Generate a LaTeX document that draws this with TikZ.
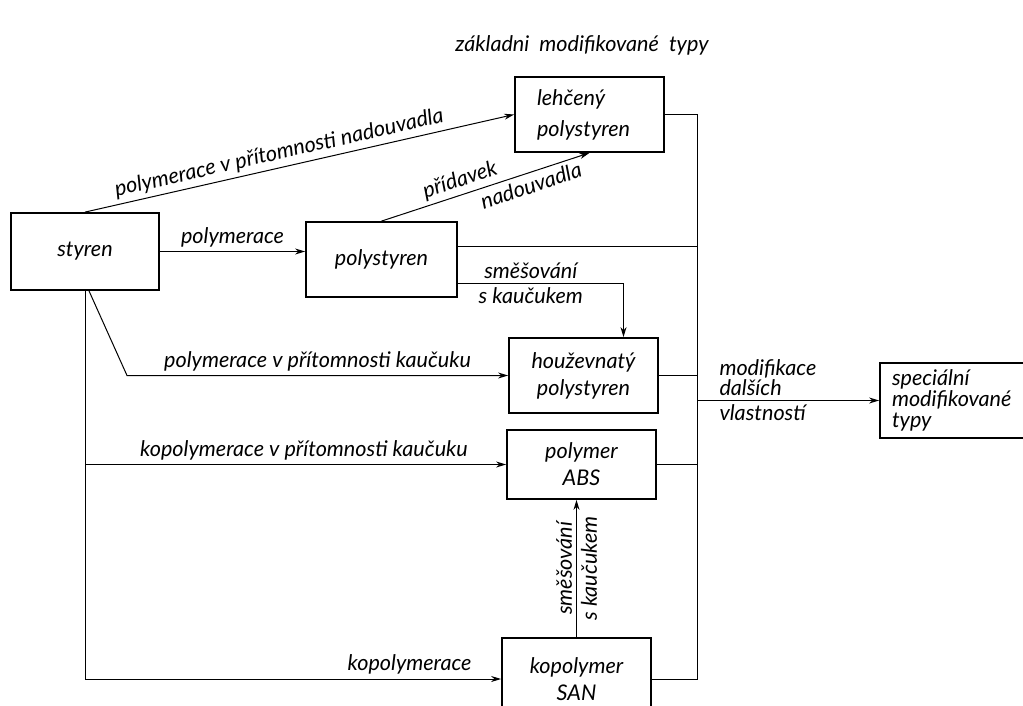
\documentclass[tikz,border=0pt]{standalone}
\usepackage{fontspec}
\setmainfont{Lato}
\usetikzlibrary{arrows.meta,calc}
\begin{document}
\begin{tikzpicture}[x=0.5pt,y=-0.5pt,line width=0.5pt]

    \tikzset{boxstyle/.style={draw,line width=0.9pt,inner sep=0pt,align=center,font=\itshape\fontsize{10.8}{13.5}\selectfont},
             labelstyle/.style={inner sep=2pt,font=\itshape\fontsize{10.8}{10}\selectfont},
             ar/.style={-{Stealth[length=5pt,width=3pt]}}}

    \useasboundingbox (0,0) rectangle (1023,706);
    \clip (0,0) rectangle (1023,706);

    \node[labelstyle] (title) at (582,45) {základni~~modifikované~~typy};

    \node[boxstyle,minimum width=74pt,minimum height=38.5pt] (sty) at ( 85,251.5) {styren};
    \node[boxstyle,minimum width=75.5pt,minimum height=37.5pt] (ps) at (381.5,259.5) {polystyren};
    \node[boxstyle,minimum width=74.5pt,minimum height=37.5pt,align=left,text width=52.5pt,inner xsep=11pt] (lps) at (589.5,114.5) {lehčený\\[2pt]polystyren};
    \node[boxstyle,minimum width=74.5pt,minimum height=37.5pt] (hps) at (583.5,375.5) {houževnatý\\polystyren};
    \node[boxstyle,minimum width=74.5pt,minimum height=34.5pt] (abs) at (581.5,464.5) {polymer\\ABS};
    \node[boxstyle,minimum width=74.5pt,minimum height=41pt] (san) at (576.5,679) {kopolymer\\SAN};
    \node[boxstyle,minimum width=80pt,minimum height=37.5pt,align=left,text width=68pt,inner xsep=6pt,font=\itshape\fontsize{10.8}{10.5}\selectfont] (spec) at (960,400.5) {speciální\\modifikované\\typy};

    \coordinate (ps1) at ($(ps.north east)!0.33!(ps.south east)$);
    \coordinate (ps2) at ($(ps.north east)!0.81!(ps.south east)$);
    \coordinate (kink) at (127,375.5);
    \coordinate (bb) at (697,679);

    \draw[ar] (sty.east) -- (sty.east -| ps.west) node[labelstyle,above,midway]{polymerace};
    \draw[ar] (sty.north) -- (lps.west) node[labelstyle,above,sloped,pos=0.46]{polymerace v přítomnosti nadouvadla};
    \draw[ar] (ps.north) -- (lps.south) node[labelstyle,above,sloped,pos=0.40]{přídavek}
                                        node[labelstyle,below,sloped,pos=0.70]{nadouvadla};
    \draw[ar] (ps2) -| ([xshift=20pt]hps.north) node[labelstyle,above,pos=0.22]{směšování}
                                                 node[labelstyle,below,pos=0.22]{s kaučukem};
    \draw[ar] ([xshift=2pt]sty.south) -- (kink) -- (hps.west) node[labelstyle,above,midway]{polymerace v přítomnosti kaučuku};
    \draw[ar] (abs.west -| sty.south) -- (abs.west) node[labelstyle,above,pos=0.52]{kopolymerace v přítomnosti kaučuku};
    \draw[ar] (sty.south) |- (san.west) node[labelstyle,above,pos=0.89]{kopolymerace};
    \draw[ar] (san.north) -- (san.north |- abs.south) node[labelstyle,above,sloped,midway]{směšování}
                                                      node[labelstyle,below,sloped,midway]{s kaučukem};

    % sberna cara vpravo
    \begin{scope}[every path/.style={-}]
        \draw (lps.east) -| (bb) -- (san.east);
        \draw (ps1) -- (ps1 -| bb);
        \draw (hps.east) -- (hps.east -| bb);
        \draw (abs.east) -- (abs.east -| bb);
    \end{scope}

    \draw[ar] (spec.west -| bb) -- (spec.west) node[labelstyle,above right,pos=0,align=left,xshift=9pt]{modifikace\\dalších}
                                              node[labelstyle,below right,pos=0,xshift=9pt]{vlastností};

\end{tikzpicture}
\end{document}
